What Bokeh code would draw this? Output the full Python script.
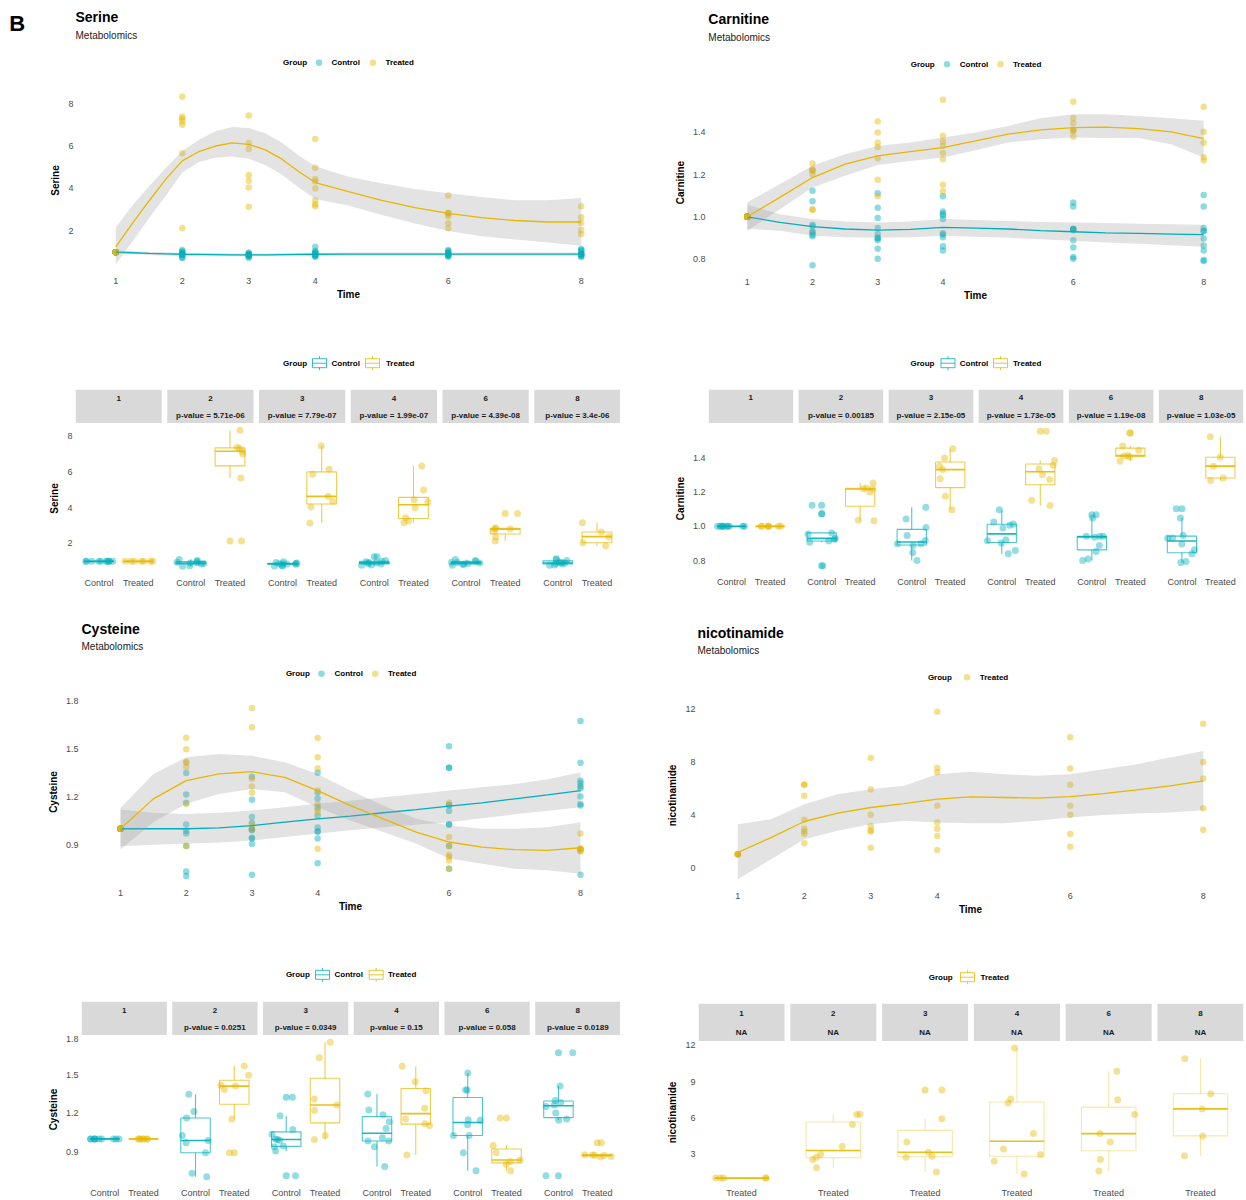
import numpy as np
from bokeh.plotting import figure
from bokeh.layouts import row, column
from bokeh.models import Range1d, FixedTicker, PrintfTickFormatter, ColumnDataSource
from bokeh.transform import jitter
from bokeh.core.properties import value
from bokeh.embed import file_html
from bokeh.resources import INLINE

FONT = "Liberation Sans"
CTRL_COL = "#00AFBB"
TRT_COL = "#E7B800"
STRIP_COL = "#D9D9D9"
TICK_COL = "#4D4D4D"
BAND_COL = "#999999"

# ---------------------------------------------------------------- data
times = [1, 2, 3, 4, 6, 8]

serine_ctrl = [
    [1.0, 1.0, 1.0, 1.0, 1.0, 1.0, 1.0, 1.0, 1.0, 1.0],
    [1.10, 1.04, 1.00, 0.95, 0.92, 0.90, 0.88, 0.85, 0.75, 0.72],
    [0.98, 0.93, 0.90, 0.88, 0.87, 0.86, 0.85, 0.83, 0.78, 0.74],
    [1.25, 1.05, 1.00, 0.98, 0.93, 0.90, 0.88, 0.85, 0.80, 0.78],
    [1.10, 1.05, 1.00, 0.95, 0.93, 0.90, 0.88, 0.85, 0.82, 0.78],
    [1.15, 1.10, 1.05, 0.95, 0.92, 0.90, 0.88, 0.85, 0.80, 0.78],
]
serine_trt = [
    [1.0, 1.0, 1.0, 1.0, 1.0, 1.0, 1.0],
    [2.13, 5.66, 7.00, 7.15, 7.30, 7.38, 8.32],
    [3.14, 4.04, 4.36, 4.63, 5.86, 6.14, 7.44],
    [3.16, 3.26, 3.44, 4.00, 4.33, 4.44, 4.98, 6.33],
    [2.13, 2.36, 2.69, 2.80, 2.83, 2.86, 3.67],
    [1.85, 2.04, 2.38, 2.64, 3.16],
]
serine_pvals = ["", "p-value = 5.71e-06", "p-value = 7.79e-07", "p-value = 1.99e-07",
                "p-value = 4.39e-08", "p-value = 3.4e-06"]
serine_fit_x = [1, 1.25, 1.5, 1.75, 2, 2.25, 2.5, 2.75, 3, 3.25, 3.5, 3.75, 4, 4.5, 5, 5.5, 6, 6.5, 7, 7.5, 8]
serine_trt_fit = [1.25, 2.35, 3.41, 4.43, 5.30, 5.74, 6.00, 6.15, 6.08, 5.82, 5.38, 4.80, 4.28, 3.85, 3.44,
                  3.10, 2.83, 2.63, 2.49, 2.42, 2.42]
serine_trt_hi = [2.16, 3.20, 4.10, 4.95, 5.75, 6.30, 6.70, 6.90, 6.85, 6.60, 6.15, 5.55, 5.05, 4.55, 4.25,
                 3.98, 3.78, 3.60, 3.45, 3.45, 3.55]
serine_trt_lo = [0.43, 1.50, 2.60, 3.65, 4.75, 5.25, 5.45, 5.50, 5.40, 5.10, 4.65, 4.05, 3.50, 3.20, 2.75,
                 2.35, 2.00, 1.75, 1.60, 1.45, 1.30]
serine_ctrl_fit = [1.00, 0.97, 0.94, 0.92, 0.90, 0.89, 0.88, 0.87, 0.87, 0.87, 0.88, 0.89, 0.90, 0.91, 0.91,
                   0.91, 0.91, 0.91, 0.91, 0.91, 0.91]
serine_ctrl_hi = [1.08, 1.04, 1.01, 0.99, 0.97, 0.96, 0.95, 0.94, 0.94, 0.94, 0.95, 0.96, 0.97, 0.98, 0.98,
                  0.98, 0.98, 0.98, 0.98, 0.98, 1.00]
serine_ctrl_lo = [0.92, 0.90, 0.87, 0.85, 0.83, 0.82, 0.81, 0.80, 0.80, 0.80, 0.81, 0.82, 0.83, 0.84, 0.84,
                  0.84, 0.84, 0.84, 0.84, 0.84, 0.82]

carnitine_ctrl = [
    [1.0, 1.0, 1.0, 1.0, 1.0, 1.0, 1.0, 1.0, 1.0, 1.0],
    [0.770, 0.908, 0.915, 0.925, 0.930, 0.955, 0.962, 1.074, 1.123],
    [0.801, 0.848, 0.889, 0.899, 0.899, 0.918, 0.947, 0.994, 1.043, 1.111],
    [0.840, 0.860, 0.903, 0.916, 0.922, 0.990, 1.006, 1.014, 1.025, 1.097],
    [0.801, 0.809, 0.854, 0.889, 0.936, 0.942, 0.942, 0.942, 1.049, 1.068],
    [0.790, 0.795, 0.840, 0.864, 0.897, 0.932, 0.932, 0.947, 1.049, 1.103],
]
carnitine_trt = [
    [1.0, 1.0, 1.0, 1.0, 1.0, 1.0, 1.0],
    [1.033, 1.035, 1.200, 1.218, 1.220, 1.224, 1.253],
    [1.097, 1.175, 1.277, 1.331, 1.351, 1.399, 1.452],
    [1.121, 1.152, 1.273, 1.302, 1.335, 1.357, 1.384, 1.555],
    [1.380, 1.405, 1.410, 1.413, 1.444, 1.468, 1.545],
    [1.267, 1.282, 1.351, 1.403, 1.522],
]
carnitine_pvals = ["", "p-value = 0.00185", "p-value = 2.15e-05", "p-value = 1.73e-05",
                   "p-value = 1.19e-08", "p-value = 1.03e-05"]
fit_x = [1, 1.5, 2, 2.5, 3, 3.5, 4, 4.5, 5, 5.5, 6, 6.5, 7, 7.5, 8]
carnitine_trt_fit = [1.000, 1.092, 1.186, 1.250, 1.289, 1.309, 1.328, 1.360, 1.392, 1.412, 1.423, 1.425,
                     1.418, 1.403, 1.371]
carnitine_trt_hi = [1.068, 1.155, 1.242, 1.297, 1.336, 1.352, 1.376, 1.400, 1.431, 1.467, 1.486, 1.486,
                    1.478, 1.467, 1.455]
carnitine_trt_lo = [0.934, 1.036, 1.139, 1.194, 1.246, 1.265, 1.281, 1.316, 1.352, 1.368, 1.376, 1.373,
                    1.373, 1.344, 1.281]
carnitine_ctrl_fit = [1.000, 0.973, 0.953, 0.942, 0.937, 0.940, 0.950, 0.946, 0.942, 0.934, 0.929, 0.924,
                      0.921, 0.918, 0.915]
carnitine_ctrl_hi = [1.057, 1.012, 0.989, 0.978, 0.973, 0.978, 0.989, 0.985, 0.980, 0.975, 0.973, 0.970,
                     0.967, 0.965, 0.962]
carnitine_ctrl_lo = [0.943, 0.934, 0.910, 0.903, 0.900, 0.903, 0.910, 0.905, 0.900, 0.893, 0.886, 0.878,
                     0.872, 0.865, 0.858]

cysteine_ctrl = [
    [1.0, 1.0, 1.0, 1.0, 1.0, 1.0, 1.0, 1.0, 1.0, 1.0],
    [0.704, 0.732, 0.892, 0.970, 0.988, 1.026, 1.163, 1.215, 1.349],
    [0.712, 0.905, 0.939, 0.944, 0.990, 0.995, 1.000, 1.037, 1.073, 1.181, 1.325],
    [0.784, 0.939, 0.983, 0.983, 1.008, 1.081, 1.135, 1.189, 1.227, 1.351],
    [0.750, 0.892, 1.026, 1.026, 1.111, 1.145, 1.150, 1.382, 1.382, 1.516],
    [0.712, 1.145, 1.155, 1.202, 1.253, 1.266, 1.284, 1.300, 1.413, 1.674],
]
cysteine_trt = [
    [1.0, 1.0, 1.0, 1.0, 1.0, 1.0, 1.0],
    [0.892, 1.155, 1.387, 1.413, 1.420, 1.498, 1.570],
    [0.995, 1.026, 1.225, 1.265, 1.313, 1.635, 1.756],
    [0.874, 1.104, 1.119, 1.155, 1.240, 1.377, 1.447, 1.568],
    [0.750, 0.802, 0.823, 0.835, 0.892, 0.949, 1.163],
    [0.859, 0.862, 0.870, 0.872, 0.874, 0.876, 0.970],
]
cysteine_pvals = ["", "p-value = 0.0251", "p-value = 0.0349", "p-value = 0.15",
                  "p-value = 0.058", "p-value = 0.0189"]
cysteine_trt_fit = [1.000, 1.187, 1.301, 1.343, 1.357, 1.322, 1.239, 1.145, 1.062, 0.979, 0.917, 0.885,
                    0.869, 0.865, 0.881]
cysteine_trt_hi = [1.130, 1.343, 1.447, 1.468, 1.457, 1.416, 1.343, 1.239, 1.145, 1.062, 1.021, 1.000,
                   1.000, 1.010, 1.041]
cysteine_trt_lo = [0.870, 1.041, 1.156, 1.218, 1.249, 1.228, 1.135, 1.052, 0.979, 0.906, 0.813, 0.781,
                   0.750, 0.740, 0.719]
cysteine_ctrl_fit = [1.000, 1.000, 1.000, 1.006, 1.020, 1.041, 1.062, 1.079, 1.100, 1.120, 1.141, 1.162,
                     1.187, 1.212, 1.239]
cysteine_ctrl_hi = [1.120, 1.100, 1.093, 1.100, 1.114, 1.135, 1.156, 1.176, 1.197, 1.218, 1.239, 1.260,
                    1.280, 1.310, 1.353]
cysteine_ctrl_lo = [0.890, 0.900, 0.906, 0.914, 0.927, 0.948, 0.969, 0.990, 1.010, 1.025, 1.041, 1.065,
                    1.090, 1.112, 1.135]

nicotinamide_trt = [
    [1.0, 1.0, 1.0, 1.0, 1.0],
    [1.85, 2.54, 2.73, 2.95, 3.63, 5.45, 6.27, 6.30],
    [1.50, 2.73, 2.81, 3.14, 4.00, 5.92, 8.30],
    [1.34, 2.40, 2.95, 3.41, 4.69, 7.23, 7.55, 11.80],
    [1.58, 2.54, 4.00, 4.69, 6.27, 7.50, 9.87],
    [2.86, 4.50, 6.74, 7.99, 10.90],
]
nicotinamide_pvals = ["NA", "NA", "NA", "NA", "NA", "NA"]
nicotinamide_trt_fit = [1.14, 2.27, 3.49, 4.12, 4.55, 4.85, 5.18, 5.36, 5.31, 5.26, 5.38, 5.60, 5.89, 6.19, 6.57]
nicotinamide_trt_hi = [3.28, 3.66, 4.80, 5.56, 5.94, 6.19, 7.07, 7.25, 7.07, 6.95, 7.07, 7.45, 7.83, 8.34, 8.84]
nicotinamide_trt_lo = [-0.88, 0.63, 2.15, 2.78, 3.28, 3.54, 3.41, 3.36, 3.36, 3.54, 3.79, 3.99, 4.09, 4.17, 4.35]

facet_labels = [str(t) for t in times]

# ---------------------------------------------------------------- layout constants
CAT = 100        # width of one category on the facetted axes
PITCH2 = 234     # facet pitch with two groups
PITCH1 = 128     # facet pitch with one group
BOX_HALF = 38
JIT = 75


def blank_fig(w, h, xr, yr, left=0, right=0, top=0, bottom=0, align=True):
    p = figure(width=w, height=h, x_range=xr, y_range=yr, x_axis_type=None, y_axis_type=None,
               toolbar_location=None, output_backend="svg", title=None,
               min_border_left=left, min_border_right=right,
               min_border_top=top, min_border_bottom=bottom, frame_align=align)
    p.outline_line_color = None
    p.background_fill_color = "white"
    p.border_fill_color = "white"
    return p


def add_text(p, xs, ys, texts, size, bold=False, align="left", color="black"):
    p.text(x=xs, y=ys, text=texts, text_font=value(FONT), text_font_size=size,
           text_font_style="bold" if bold else "normal", text_align=align,
           text_baseline="middle", text_color=color)


def legend_row(p, y, gx, items, kind):
    add_text(p, [gx], [y], ["Group"], "8px", bold=True)
    for kx, tx, label, col in items:
        if kind == "dot":
            p.scatter([kx], [y], size=6.5, fill_color=col, fill_alpha=0.45, line_color=None)
        else:
            p.quad(left=[kx - 7], right=[kx + 7], top=[y - 4.5], bottom=[y + 4.5], fill_color=None,
                   line_color=col, line_alpha=0.8, line_width=1)
            p.segment(x0=[kx - 7, kx, kx], y0=[y, y - 7, y + 4.5], x1=[kx + 7, kx, kx], y1=[y, y - 4.5, y + 7],
                      line_color=col, line_alpha=0.8, line_width=1)
        add_text(p, [tx], [y], [label], "8px", bold=True)


def header(w, h, title=None, tx=0, ty=0, sy=0):
    # header band spans the whole cell, so it must not snap to the plot frame below it
    p = blank_fig(w, h, Range1d(0, w), Range1d(h, 0), align=False)
    if title:
        add_text(p, [tx], [ty], [title], "14px", bold=True)
        add_text(p, [tx], [sy], ["Metabolomics"], "10px", color="#1A1A1A")
    return p


def style_axes(p, y_standoff, x_standoff):
    for ax in p.axis:
        ax.axis_line_color = None
        ax.major_tick_line_color = None
        ax.minor_tick_line_color = None
        ax.major_tick_out = 0
        ax.major_tick_in = 0
        ax.major_label_text_font = FONT
        ax.major_label_text_font_size = "9px"
        ax.major_label_text_color = TICK_COL
        ax.axis_label_text_font = FONT
        ax.axis_label_text_font_size = "10px"
        ax.axis_label_text_font_style = "bold"
        ax.axis_label_text_color = "black"
    p.yaxis.major_label_standoff = y_standoff
    p.xaxis.major_label_standoff = x_standoff
    p.yaxis.axis_label_standoff = 4
    p.xaxis.axis_label_standoff = 2
    p.grid.visible = False


def flatten(series):
    xs, ys = [], []
    for t, vals in zip(times, series):
        xs += [t] * len(vals)
        ys += list(vals)
    return xs, ys


def line_panel(w, h, borders, yr, yticks, yfmt, ylabel, point_sets, fx, fit_sets):
    left, right, top, bottom = borders
    p = figure(width=w, height=h, x_range=Range1d(0.65, 8.35), y_range=yr, toolbar_location=None,
               output_backend="svg", title=None, min_border_left=left, min_border_right=right,
               min_border_top=top, min_border_bottom=bottom)
    p.outline_line_color = None
    for series, col in point_sets:
        xs, ys = flatten(series)
        p.scatter(xs, ys, size=6.5, fill_color=col, fill_alpha=0.45, line_color=None)
    for (fit, lo, hi), col in fit_sets:
        p.varea(x=fx, y1=lo, y2=hi, fill_color=BAND_COL, fill_alpha=0.28)
        p.line(fx, fit, line_color=col, line_width=1.3)
    p.xaxis.ticker = FixedTicker(ticks=times)
    p.yaxis.ticker = FixedTicker(ticks=yticks)
    p.yaxis.formatter = PrintfTickFormatter(format=yfmt)
    p.xaxis.axis_label = "Time"
    p.yaxis.axis_label = ylabel
    style_axes(p, 19, 5)
    return p


def box_stats(vals):
    v = np.asarray(vals, dtype=float)
    q1, med, q3 = np.percentile(v, [25, 50, 75])
    iqr = q3 - q1
    keep = (v >= q1 - 1.5 * iqr) & (v <= q3 + 1.5 * iqr)
    return q1, med, q3, v[keep].min(), v[keep].max(), v[~keep]


def box_panel(w, h, borders, xr, yr, yticks, yfmt, ylabel, group_sets, pitch, box_alpha):
    left, right, top, bottom = borders
    p = figure(width=w, height=h, x_range=xr, y_range=yr, toolbar_location=None,
               output_backend="svg", title=None, min_border_left=left, min_border_right=right,
               min_border_top=top, min_border_bottom=bottom)
    p.outline_line_color = None
    ticks, labels = [], {}
    jitter_sets = []
    for gi, (name, series, col) in enumerate(group_sets):
        L, R, B, T, M, X, WL, WH, OX, OY, PX, PY = ([] for _ in range(12))
        for k, vals in enumerate(series):
            pos = k * pitch + gi * CAT
            ticks.append(pos)
            labels[pos] = name
            q1, med, q3, lo, hi, out = box_stats(vals)
            L.append(pos - BOX_HALF); R.append(pos + BOX_HALF)
            B.append(q1); T.append(q3); M.append(med); X.append(pos)
            WL.append(lo); WH.append(hi)
            OX += [pos] * len(out); OY += list(out)
            PX += [pos] * len(vals); PY += list(vals)
        p.quad(left=L, right=R, bottom=B, top=T, fill_color=None, line_color=col,
               line_alpha=box_alpha, line_width=1.1)
        p.segment(x0=X, y0=T, x1=X, y1=WH, line_color=col, line_alpha=box_alpha, line_width=1.1)
        p.segment(x0=X, y0=B, x1=X, y1=WL, line_color=col, line_alpha=box_alpha, line_width=1.1)
        p.segment(x0=L, y0=M, x1=R, y1=M, line_color=col, line_alpha=0.9, line_width=1.6)
        if OX:
            p.scatter(OX, OY, size=7, fill_color=col, fill_alpha=0.45, line_color=None)
        jitter_sets.append((PX, PY, col))
    for PX, PY, col in jitter_sets:
        src = ColumnDataSource(dict(x=PX, y=PY))
        p.scatter(x=jitter("x", width=JIT), y="y", source=src, size=7, fill_color=col,
                  fill_alpha=0.42, line_color=None)
    p.xaxis.ticker = FixedTicker(ticks=sorted(ticks))
    p.xaxis.major_label_overrides = labels
    p.yaxis.ticker = FixedTicker(ticks=yticks)
    p.yaxis.formatter = PrintfTickFormatter(format=yfmt)
    p.yaxis.axis_label = ylabel
    style_axes(p, 3, 4)
    return p


def strip_panel(w, h, left, right, xr, centers, half, y_bot, line2, y1, y2):
    p = blank_fig(w, h, xr, Range1d(h, 0), left, right)
    p.quad(left=[c - half for c in centers], right=[c + half for c in centers],
           top=[0] * len(centers), bottom=[y_bot] * len(centers),
           fill_color=STRIP_COL, line_color=None)
    add_text(p, centers, [y1] * len(centers), facet_labels, "8px", bold=True, align="center", color="#1A1A1A")
    add_text(p, centers, [y2] * len(centers), line2, "8px", bold=True, align="center", color="#1A1A1A")
    return p


centers2 = [k * PITCH2 + CAT // 2 for k in range(len(times))]
centers1 = [k * PITCH1 for k in range(len(times))]

# ---------------------------------------------------------------- band 1: smooth fits
h_sl = header(620, 80, "Serine", 75, 16.8, 35)
add_text(h_sl, [8.7], [23], ["B"], "22px", bold=True)
legend_row(h_sl, 62.3, 282.6, [(318.6, 331, "Control", CTRL_COL), (372.3, 385, "Treated", TRT_COL)], "dot")
p_sl = line_panel(620, 230, (92, 16, 8, 38), Range1d(0.04, 8.71), [2, 4, 6, 8], "%d", "Serine",
                  [(serine_ctrl, CTRL_COL), (serine_trt, TRT_COL)], serine_fit_x,
                  [((serine_ctrl_fit, serine_ctrl_lo, serine_ctrl_hi), CTRL_COL),
                   ((serine_trt_fit, serine_trt_lo, serine_trt_hi), TRT_COL)])

h_cr = header(626, 80, "Carnitine", 87.8, 18.7, 37)
legend_row(h_cr, 63.7, 290.2, [(326.5, 339.3, "Control", CTRL_COL), (380, 392.4, "Treated", TRT_COL)], "dot")
p_cr = line_panel(626, 230, (104, 20, 11, 37), Range1d(0.731, 1.594), [0.8, 1.0, 1.2, 1.4], "%.1f",
                  "Carnitine", [(carnitine_ctrl, CTRL_COL), (carnitine_trt, TRT_COL)], fit_x,
                  [((carnitine_ctrl_fit, carnitine_ctrl_lo, carnitine_ctrl_hi), CTRL_COL),
                   ((carnitine_trt_fit, carnitine_trt_lo, carnitine_trt_hi), TRT_COL)])

# ---------------------------------------------------------------- band 2: facetted boxes
xr_sb = Range1d(-60, 5 * PITCH2 + CAT + 60)
h_sb = header(620, 79)
legend_row(h_sb, 52.7, 282.6, [(319, 331, "Control", CTRL_COL), (372, 385.4, "Treated", TRT_COL)], "box")
s_sb = strip_panel(620, 34, 75, 0, xr_sb, centers2, 110, 33.7, serine_pvals, 8.7, 26.3)
b_sb = box_panel(620, 177, (75, 0, 0, 27), xr_sb, Range1d(0.32, 8.70), [2, 4, 6, 8], "%d", "Serine",
                 [("Control", serine_ctrl, CTRL_COL), ("Treated", serine_trt, TRT_COL)], PITCH2, 0.7)

xr_cb = Range1d(-60, 5 * PITCH2 + CAT + 60)
h_cb = header(626, 79)
legend_row(h_cb, 52.7, 290, [(327.5, 339.3, "Control", CTRL_COL), (380, 392.4, "Treated", TRT_COL)], "box")
s_cb = strip_panel(626, 34, 88, 3, xr_cb, centers2, 110, 33.7, carnitine_pvals, 8.3, 26.3)
b_cb = box_panel(626, 177, (88, 3, 1, 28), xr_cb, Range1d(0.731, 1.594), [0.8, 1.0, 1.2, 1.4], "%.1f",
                 "Carnitine", [("Control", carnitine_ctrl, CTRL_COL), ("Treated", carnitine_trt, TRT_COL)],
                 PITCH2, 0.7)

# ---------------------------------------------------------------- band 3: smooth fits
h_cl = header(620, 90, "Cysteine", 81, 28.3, 46)
legend_row(h_cl, 73.3, 285.4, [(321, 334, "Control", CTRL_COL), (374.7, 387.4, "Treated", TRT_COL)], "dot")
p_cl = line_panel(620, 230, (97, 17, 9, 36), Range1d(0.651, 1.809), [0.9, 1.2, 1.5, 1.8], "%.1f",
                  "Cysteine", [(cysteine_ctrl, CTRL_COL), (cysteine_trt, TRT_COL)], fit_x,
                  [((cysteine_ctrl_fit, cysteine_ctrl_lo, cysteine_ctrl_hi), CTRL_COL),
                   ((cysteine_trt_fit, cysteine_trt_lo, cysteine_trt_hi), TRT_COL)])

h_nr = header(626, 90, "nicotinamide", 77, 32, 49.5)
legend_row(h_nr, 76.7, 307.4, [(346.5, 359.3, "Treated", TRT_COL)], "dot")
p_nr = line_panel(626, 230, (94, 20, 13, 33), Range1d(-1.51, 12.43), [0, 4, 8, 12], "%d", "nicotinamide",
                  [(nicotinamide_trt, TRT_COL)], fit_x,
                  [((nicotinamide_trt_fit, nicotinamide_trt_lo, nicotinamide_trt_hi), TRT_COL)])

# ---------------------------------------------------------------- band 4: facetted boxes
xr_yb = Range1d(-60, 5 * PITCH2 + CAT + 60)
h_yb = header(620, 81)
legend_row(h_yb, 54.3, 285.4, [(322, 334, "Control", CTRL_COL), (375.7, 387.4, "Treated", TRT_COL)], "box")
s_yb = strip_panel(620, 34, 81, 0, xr_yb, centers2, 110, 34, cysteine_pvals, 9, 26)
b_yb = box_panel(620, 165, (81, 0, 0, 15), xr_yb, Range1d(0.651, 1.809), [0.9, 1.2, 1.5, 1.8], "%.1f",
                 "Cysteine", [("Control", cysteine_ctrl, CTRL_COL), ("Treated", cysteine_trt, TRT_COL)],
                 PITCH2, 0.7)

xr_nb = Range1d(-60, 5 * PITCH1 + 60)
h_nb = header(626, 83)
legend_row(h_nb, 56.7, 308.2, [(347, 360, "Treated", TRT_COL)], "box")
s_nb = strip_panel(626, 38, 78, 3, xr_nb, centers1, 60, 38, nicotinamide_pvals, 10.3, 29)
b_nb = box_panel(626, 159, (78, 3, 0, 15), xr_nb, Range1d(0.55, 12.33), [3, 6, 9, 12], "%d", "nicotinamide",
                 [("Treated", nicotinamide_trt, TRT_COL)], PITCH1, 0.35)

page = column(
    row(column(h_sl, p_sl), column(h_cr, p_cr)),
    row(column(h_sb, s_sb, b_sb), column(h_cb, s_cb, b_cb)),
    row(column(h_cl, p_cl), column(h_nr, p_nr)),
    row(column(h_yb, s_yb, b_yb), column(h_nb, s_nb, b_nb)),
)

open("out.html", "w").write(file_html(page, INLINE))
